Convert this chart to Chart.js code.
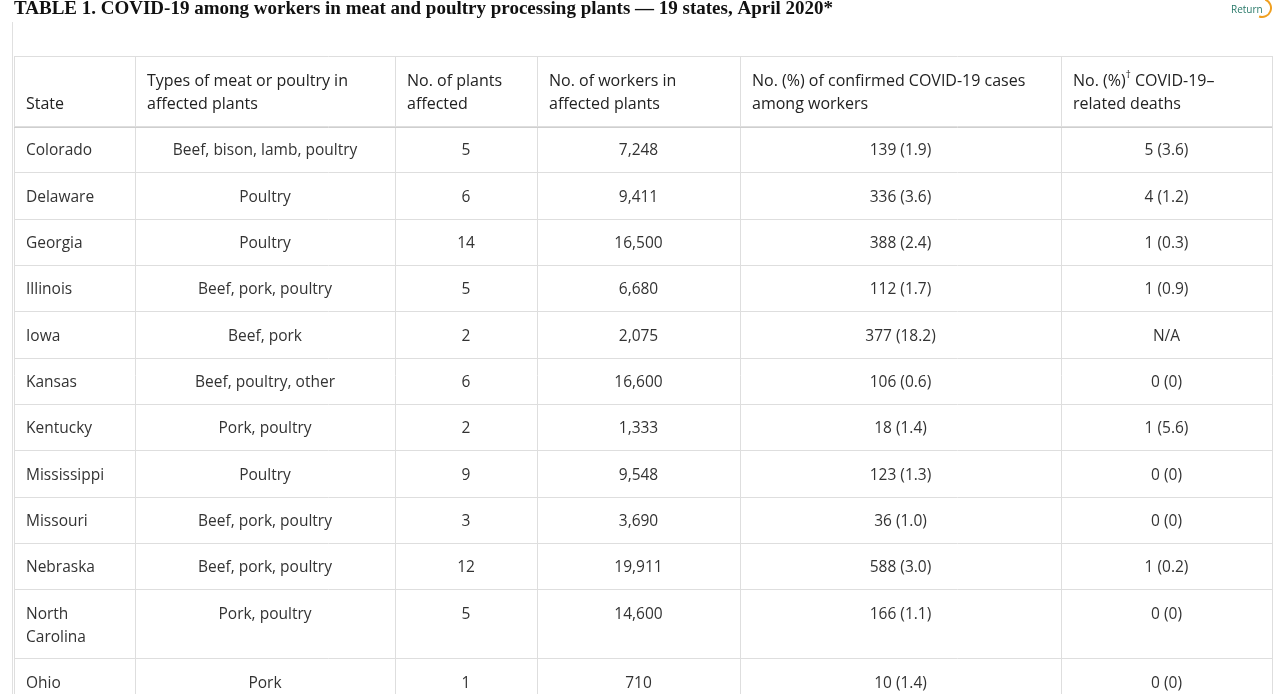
<!DOCTYPE html>
<html><head><meta charset="utf-8">
<script src="https://cdn.jsdelivr.net/npm/chart.js@4"></script>
<style>html,body{margin:0;padding:0;background:#fff;overflow:hidden}#w{width:1280px;height:694px}</style>
</head><body><div id="w"><canvas id="c"></canvas></div>
<script>
const title = "TABLE 1. COVID-19 among workers in meat and poultry processing plants \u2014 19 states, April 2020*";
const headers = [["State"],["Types of meat or poultry in","affected plants"],["No. of plants","affected"],["No. of workers in","affected plants"],["No. (%) of confirmed COVID-19 cases","among workers"],["No. (%)\u2020 COVID-19\u2013","related deaths"]];
const states = ["Colorado","Delaware","Georgia","Illinois","Iowa","Kansas","Kentucky","Mississippi","Missouri","Nebraska","North\nCarolina","Ohio"];
const types = ["Beef, bison, lamb, poultry","Poultry","Poultry","Beef, pork, poultry","Beef, pork","Beef, poultry, other","Pork, poultry","Poultry","Beef, pork, poultry","Beef, pork, poultry","Pork, poultry","Pork"];
const plants = [5,6,14,5,2,6,2,9,3,12,5,1];
const workers = ["7,248","9,411","16,500","6,680","2,075","16,600","1,333","9,548","3,690","19,911","14,600","710"];
const cases = ["139 (1.9)","336 (3.6)","388 (2.4)","112 (1.7)","377 (18.2)","106 (0.6)","18 (1.4)","123 (1.3)","36 (1.0)","588 (3.0)","166 (1.1)","10 (1.4)"];
const deaths = ["5 (3.6)","4 (1.2)","1 (0.3)","1 (0.9)","N/A","0 (0)","1 (5.6)","0 (0)","0 (0)","1 (0.2)","0 (0)","0 (0)"];

const colEdges = [14,135,395,537,740,1061,1272];
const rowEdges = [56,126,172,219,265,311,358,404,450,497,543,589,658,705];

const tablePlugin = {id:'table', afterDraw(chart){
  const ctx = chart.ctx, X = chart.scales.x, Y = chart.scales.y;
  const px = v=>X.getPixelForValue(v), py = v=>Y.getPixelForValue(v);
  ctx.save();
  ctx.fillStyle='#111'; ctx.font='bold 19px "Liberation Serif", serif'; ctx.textBaseline='middle'; ctx.textAlign='left';
  ctx.fillText(title, px(14), py(9));
  ctx.fillStyle='#2a7a6a'; ctx.font='10px "Open Sans"'; ctx.fillText('Return', px(1231), py(10));
  ctx.strokeStyle='#f0a020'; ctx.lineWidth=2; ctx.beginPath(); ctx.arc(px(1262),py(8),9,-1.2,1.9); ctx.stroke();
  ctx.strokeStyle='#e0e0e0'; ctx.lineWidth=1;
  ctx.beginPath(); ctx.moveTo(px(12)+0.5,py(22)); ctx.lineTo(px(12)+0.5,py(694)); ctx.stroke();
  ctx.strokeStyle='#dedede';
  rowEdges.forEach(r=>{ctx.beginPath();ctx.moveTo(px(colEdges[0]),Math.round(py(r))+0.5);ctx.lineTo(px(colEdges[6]),Math.round(py(r))+0.5);ctx.stroke();});
  colEdges.forEach(c=>{ctx.beginPath();ctx.moveTo(Math.round(px(c))+0.5,py(rowEdges[0]));ctx.lineTo(Math.round(px(c))+0.5,py(rowEdges[rowEdges.length-1]));ctx.stroke();});
  ctx.strokeStyle='#cfcfcf'; ctx.beginPath(); ctx.moveTo(px(14),py(126)+1.5); ctx.lineTo(px(1272),py(126)+1.5); ctx.stroke();
  ctx.fillStyle='#222'; ctx.font='16px "Open Sans"'; ctx.textAlign='left';
  headers.forEach((h,i)=>{
    const x = px(colEdges[i]+12);
    const ys = h.length===1?[104]:[81,104];
    h.forEach((t,j)=>{
      if(t.indexOf('\u2020')>=0){
        const parts=t.split('\u2020'); let xx=x;
        ctx.fillText(parts[0],xx,py(ys[j])); xx+=ctx.measureText(parts[0]).width;
        ctx.font='10px "Open Sans"'; ctx.fillText('\u2020',xx,py(ys[j])-6); xx+=ctx.measureText('\u2020').width;
        ctx.font='16px "Open Sans"'; ctx.fillText(parts[1],xx,py(ys[j]));
      } else ctx.fillText(t,x,py(ys[j]));
    });
  });
  ctx.font='15.5px "Open Sans"'; ctx.fillStyle='#333';
  states.forEach((s,r)=>{
    const top=rowEdges[r+1], mid=(rowEdges[r+1]+rowEdges[r+2])/2;
    const ty = (rowEdges[r+2]-rowEdges[r+1]>50 ? top+24 : mid)+2;
    ctx.textAlign='left';
    s.split('\n').forEach((l,j)=>ctx.fillText(l,px(26),py(ty+j*23)));
    ctx.textAlign='center';
    [types[r],String(plants[r]),workers[r],cases[r],deaths[r]].forEach((v,c)=>{
      ctx.fillText(v,px((colEdges[c+1]+colEdges[c+2])/2),py(ty));
    });
  });
  ctx.restore();
}};

new Chart(document.getElementById('c'),{
  type:'scatter',
  data:{datasets:[{data:[]}]},
  options:{responsive:true,maintainAspectRatio:false,animation:false,
    layout:{padding:0},
    plugins:{legend:{display:false},tooltip:{enabled:false}},
    scales:{x:{type:'linear',min:0,max:1280,display:false},y:{type:'linear',min:0,max:694,reverse:true,display:false}}},
  plugins:[tablePlugin]
});
</script></body></html>
